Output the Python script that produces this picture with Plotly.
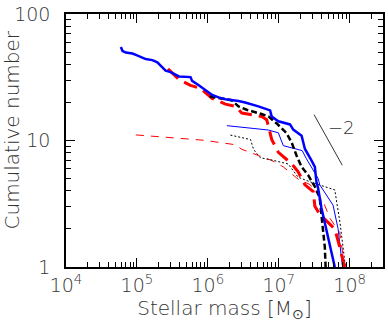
import numpy as np
import plotly.graph_objects as go

# thick blue solid
m_blue = [5.94e4, 6.27e4, 6.98e4, 8.65e4, 9.66e4, 1.14e5, 1.33e5, 1.65e5, 1.94e5, 2.16e5,
          2.54e5, 2.99e5, 3.91e5, 5.70e5, 6.0e5, 7.45e5, 9.25e5, 1.15e6, 1.42e6, 1.77e6,
          2.71e6, 3.36e6, 5.17e6, 7.55e6, 7.94e6, 9.87e6, 1.44e7, 1.60e7, 2.10e7, 2.34e7,
          2.89e7, 3.23e7, 3.40e7, 3.59e7, 4.0e7, 4.96e7, 6.17e7]
n_blue = [54.8, 51.0, 49.6, 48.7, 47.5, 45.4, 44.0, 43.2, 41.5, 39.0,
          35.7, 34.7, 32.1, 31.7, 29.6, 27.3, 25.0, 22.9, 21.9, 21.2,
          20.5, 19.95, 18.6, 17.3, 15.5, 14.2, 13.4, 12.2, 10.9, 8.57,
          6.97, 6.18, 4.72, 4.19, 2.93, 1.72, 1.0]

# thick black dashed
m_black = [1.06e6, 1.52e6, 2.16e6, 2.71e6, 3.52e6, 5.70e6, 7.15e6, 9.55e6, 1.28e7, 1.52e7,
           1.78e7, 2.10e7, 2.60e7, 3.23e7, 3.79e7, 4.08e7, 4.46e7, 4.58e7]
n_black = [22.3, 21.4, 20.8, 18.6, 17.5, 16.2, 15.5, 13.5, 11.5, 9.65,
           7.61, 6.18, 5.32, 4.32, 3.51, 2.31, 1.44, 1.0]

# thick red long dashed
m_red = [2.74e5, 3.91e5, 5.70e5, 7.87e5, 1.15e6, 1.77e6, 2.44e6, 3.02e6, 5.75e6, 6.76e6,
         7.14e6, 7.95e6, 9.87e6, 1.52e7, 1.88e7, 2.34e7, 3.06e7, 3.23e7, 3.79e7, 6.17e7,
         7.24e7, 8.51e7]
n_red = [36.8, 30.4, 27.3, 25.8, 21.5, 19.4, 18.6, 16.5, 15.5, 14.6,
         13.0, 10.2, 8.07, 6.55, 5.65, 4.46, 3.95, 3.02, 2.61, 2.0,
         1.44, 1.0]

# thin blue solid
m_blue2 = [1.86e6, 7.14e6, 9.87e6, 1.16e7, 2.14e7, 2.46e7, 3.59e7, 3.79e7, 5.83e7, 6.86e7, 7.93e7]
n_blue2 = [13.1, 12.1, 11.5, 9.10, 8.32, 7.16, 5.01, 4.46, 3.08, 2.01, 1.0]

# thin red dashed
m_red2 = [9.66e4, 3.12e5, 8.75e5, 2.44e6, 3.02e6, 5.17e6, 7.94e6, 1.16e7, 1.88e7, 2.77e7,
          4.22e7, 5.24e7, 7.24e7, 8.51e7]
n_red2 = [11.07, 10.55, 10.05, 9.26, 8.51, 7.61, 6.96, 6.18, 4.94, 4.48,
          3.31, 2.44, 1.87, 1.0]

# thin black dotted
m_black2 = [2.08e6, 4.0e6, 4.41e6, 5.47e6, 8.40e6, 1.36e7, 1.88e7, 2.86e7, 6.17e7, 7.31e7, 8.73e7]
n_black2 = [11.03, 10.18, 8.51, 7.32, 6.96, 6.52, 5.12, 4.68, 4.07, 2.23, 1.0]

# slope guide
m_slope = [3.15e7, 7.87e7]
n_slope = [16.0, 6.37]

x_major = [1e4, 1e5, 1e6, 1e7, 1e8]
x_labels = ["10<sup>4</sup>", "10<sup>5</sup>", "10<sup>6</sup>", "10<sup>7</sup>", "10<sup>8</sup>"]
y_major = [1, 10, 100]
y_labels = ["1", "10", "100"]
x_minor = [d * 10.0 ** k for k in range(4, 9) for d in range(2, 10)]
y_minor = [d * 10.0 ** k for k in range(0, 2) for d in range(2, 10)]

FONT = "DejaVu Sans"
GREY = "#333333"

fig = go.Figure()

curves = [
    (m_red2, n_red2, "#ff0000", 1, "8px,7px"),
    (m_black2, n_black2, "#000000", 1, "2px,2px"),
    (m_blue2, n_blue2, "#0000ff", 1, "solid"),
    (m_red, n_red, "#ff0000", 3, "14px,7px"),
    (m_black, n_black, "#000000", 2.5, "6px,3px"),
    (m_blue, n_blue, "#0000ff", 2.5, "solid"),
    (m_slope, n_slope, GREY, 1, "solid"),
]
for m, n, c, w, d in curves:
    fig.add_trace(go.Scatter(x=m, y=n, mode="lines",
                             line=dict(color=c, width=w, dash=d)))

fig.add_annotation(x=np.log10(4.6e7), y=np.log10(12.6), text="−2",
                   showarrow=False, xanchor="left", yanchor="middle",
                   font=dict(size=18, color=GREY, family=FONT, weight=200))

fig.add_annotation(x=0, xref="paper", xshift=-55, y=0.5, yref="paper", yshift=10,
                   text="Cumulative number", textangle=-90, showarrow=False,
                   xanchor="center", yanchor="middle",
                   font=dict(size=20, color=GREY, family=FONT, weight=200))

axis_style = dict(
    type="log", showline=True, linecolor="black", linewidth=1.5, mirror="ticks",
    ticks="inside", ticklen=9, tickwidth=1, tickcolor="black",
    showgrid=False, zeroline=False, ticklabeloverflow="allow",
    tickfont=dict(size=19, color=GREY, family=FONT, weight=200),
)

fig.update_xaxes(**axis_style, range=[4, 8.47], tickmode="array",
                 tickvals=x_major, ticktext=x_labels,
                 minor=dict(ticks="inside", ticklen=5, tickwidth=1, tickcolor="black",
                            tickmode="array", tickvals=x_minor, showgrid=False),
                 title=dict(text="Stellar mass [M<sub>⊙</sub>]", standoff=0,
                            font=dict(size=20, color=GREY, family=FONT, weight=200)))
fig.update_yaxes(**axis_style, range=[0, 2], tickmode="array",
                 tickvals=y_major, ticktext=y_labels, ticklabelstandoff=10,
                 minor=dict(ticks="inside", ticklen=5, tickwidth=1, tickcolor="black",
                            tickmode="array", tickvals=y_minor, showgrid=False))

fig.update_layout(
    width=388, height=322,
    margin=dict(l=66, r=3, t=8, b=55),
    plot_bgcolor="white", paper_bgcolor="white",
    showlegend=False,
    font=dict(family=FONT, color=GREY),
)

fig.write_html("out.html", config={"displayModeBar": False},
               post_script="document.body.style.margin='0';")
